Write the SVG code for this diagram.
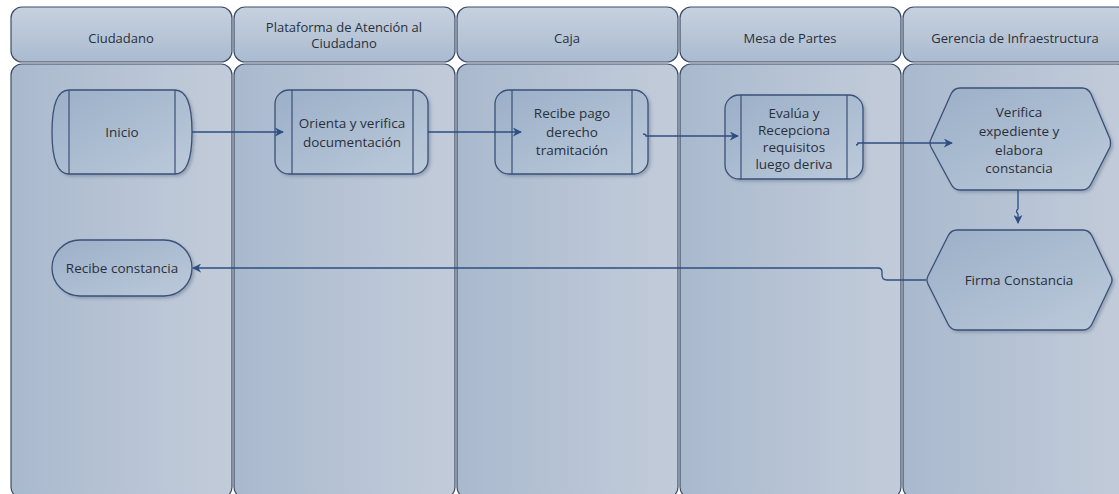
<svg xmlns="http://www.w3.org/2000/svg" width="1119" height="494" viewBox="0 0 1119 494">
<defs>
<linearGradient id="gh" x1="0" y1="0" x2="0" y2="1">
<stop offset="0" stop-color="#c6d1df"/><stop offset="1" stop-color="#aabbd0"/>
</linearGradient>
<linearGradient id="gb" x1="0" y1="0" x2="1" y2="0">
<stop offset="0" stop-color="#a9b9cd"/><stop offset="0.6" stop-color="#b9c5d6"/><stop offset="1" stop-color="#c2cbd9"/>
</linearGradient>
<linearGradient id="gn" x1="0" y1="0" x2="1" y2="1">
<stop offset="0" stop-color="#9bafc8"/><stop offset="1" stop-color="#bccada"/>
</linearGradient>
<marker id="ar" viewBox="0 0 10 10" refX="9" refY="5" markerWidth="9" markerHeight="9" markerUnits="userSpaceOnUse" orient="auto">
<path d="M0,0 L10,5 L0,10 L3,5 z" fill="#2e4d80"/>
</marker>
<filter id="sh" x="-10%" y="-10%" width="130%" height="130%">
<feDropShadow dx="2" dy="2" stdDeviation="1.5" flood-color="#5a6a80" flood-opacity="0.4"/>
</filter>
</defs>
<style>
.hd{fill:url(#gh);stroke:#3d4d68;stroke-width:1.2}
.bd{fill:url(#gb);stroke:#3d4d68;stroke-width:1.2}
.nd{fill:url(#gn);stroke:#3a5078;stroke-width:1.3;filter:url(#sh)}
.ln{stroke:#3a5078;stroke-width:1.2;fill:none}
.t{font-family:"Open Sans","Liberation Sans",sans-serif;font-size:13.5px;fill:#2a303b;text-anchor:middle}
.h{font-family:"Open Sans","Liberation Sans",sans-serif;font-size:13px;fill:#2a303b;text-anchor:middle}
.c{fill:none;stroke:#2e4d80;stroke-width:1.3}
</style>
<rect width="1119" height="494" fill="#ffffff"/>
<g id="lane-ciudadano">
<rect class="hd" x="11" y="7" width="221" height="55" rx="11"/>
<rect class="bd" x="11" y="64" width="221" height="434" rx="11"/>
<text class="h" x="121" y="43">Ciudadano</text>
</g>
<g id="lane-plataforma">
<rect class="hd" x="234" y="7" width="221" height="55" rx="11"/>
<rect class="bd" x="234" y="64" width="221" height="434" rx="11"/>
<text class="h" x="344" y="32">Plataforma de Atención al</text>
<text class="h" x="344" y="48">Ciudadano</text>
</g>
<g id="lane-caja">
<rect class="hd" x="457" y="7" width="221" height="55" rx="11"/>
<rect class="bd" x="457" y="64" width="221" height="434" rx="11"/>
<text class="h" x="567" y="43">Caja</text>
</g>
<g id="lane-mesa">
<rect class="hd" x="680" y="7" width="221" height="55" rx="11"/>
<rect class="bd" x="680" y="64" width="221" height="434" rx="11"/>
<text class="h" x="790" y="43">Mesa de Partes</text>
</g>
<g id="lane-gerencia">
<rect class="hd" x="903" y="7" width="226" height="55" rx="11"/>
<rect class="bd" x="903" y="64" width="226" height="434" rx="11"/>
<text class="h" x="1015" y="43">Gerencia de Infraestructura</text>
</g>
<g id="node-inicio">
<path class="nd" d="M69,90 H175 Q192,90 192,132 Q192,174 175,174 H69 Q52,174 52,132 Q52,90 69,90 z"/>
<path class="ln" d="M69,90 V174 M175,90 V174"/>
<text class="t" x="122" y="137">Inicio</text>
</g>
<g id="node-orienta">
<rect class="nd" x="275" y="90" width="153" height="84" rx="14"/>
<path class="ln" d="M292,90 V174 M413,90 V174"/>
<text class="t" x="352" y="128">Orienta y verifica</text>
<text class="t" x="352" y="147">documentación</text>
</g>
<g id="node-recibe-pago">
<rect class="nd" x="495" y="90" width="153" height="84" rx="14"/>
<path class="ln" d="M512,90 V174 M632,90 V174"/>
<text class="t" x="572" y="118">Recibe pago</text>
<text class="t" x="572" y="137">derecho</text>
<text class="t" x="572" y="155">tramitación</text>
</g>
<g id="node-evalua">
<rect class="nd" x="725" y="95" width="138" height="84" rx="14"/>
<path class="ln" d="M741,95 V179 M847,95 V179"/>
<text class="t" x="794" y="118">Evalúa y</text>
<text class="t" x="794" y="135">Recepciona</text>
<text class="t" x="794" y="152">requisitos</text>
<text class="t" x="794" y="169">luego deriva</text>
</g>
<g id="node-verifica">
<path class="nd" d="M960,88 H1082 Q1088,88 1091,94 L1110,139 Q1111,143 1110,147 L1091,184 Q1088,190 1082,190 H960 Q954,190 951,184 L931,147 Q929,143 931,139 L951,94 Q954,88 960,88 z"/>
<text class="t" x="1019" y="117">Verifica</text>
<text class="t" x="1019" y="136">expediente y</text>
<text class="t" x="1019" y="155">elabora</text>
<text class="t" x="1019" y="173">constancia</text>
</g>
<g id="node-firma">
<path class="nd" d="M957,230 H1083 Q1089,230 1092,236 L1111,276 Q1113,280 1111,284 L1092,324 Q1089,330 1083,330 H957 Q951,330 948,324 L928,284 Q926,280 928,276 L948,236 Q951,230 957,230 z"/>
<text class="t" x="1019" y="285">Firma Constancia</text>
</g>
<g id="node-recibe-constancia">
<rect class="nd" x="52" y="240" width="140" height="56" rx="28"/>
<text class="t" x="122" y="273">Recibe constancia</text>
</g>
<g id="connectors">
<path class="c" d="M192,132 H283" marker-end="url(#ar)"/>
<path class="c" d="M428,132 H521" marker-end="url(#ar)"/>
<path class="c" d="M643,134 Q646,134 646,136 H738" marker-end="url(#ar)"/>
<path class="c" d="M856,145 Q858,145 858,143 H952" marker-end="url(#ar)"/>
<path class="c" d="M1018,190 V209 Q1015,211 1018,214 V223" marker-end="url(#ar)"/>
<path class="c" d="M926,280 H887 Q882,280 882,275 V272 Q882,268 878,268 H193" marker-end="url(#ar)"/>
</g>
</svg>
